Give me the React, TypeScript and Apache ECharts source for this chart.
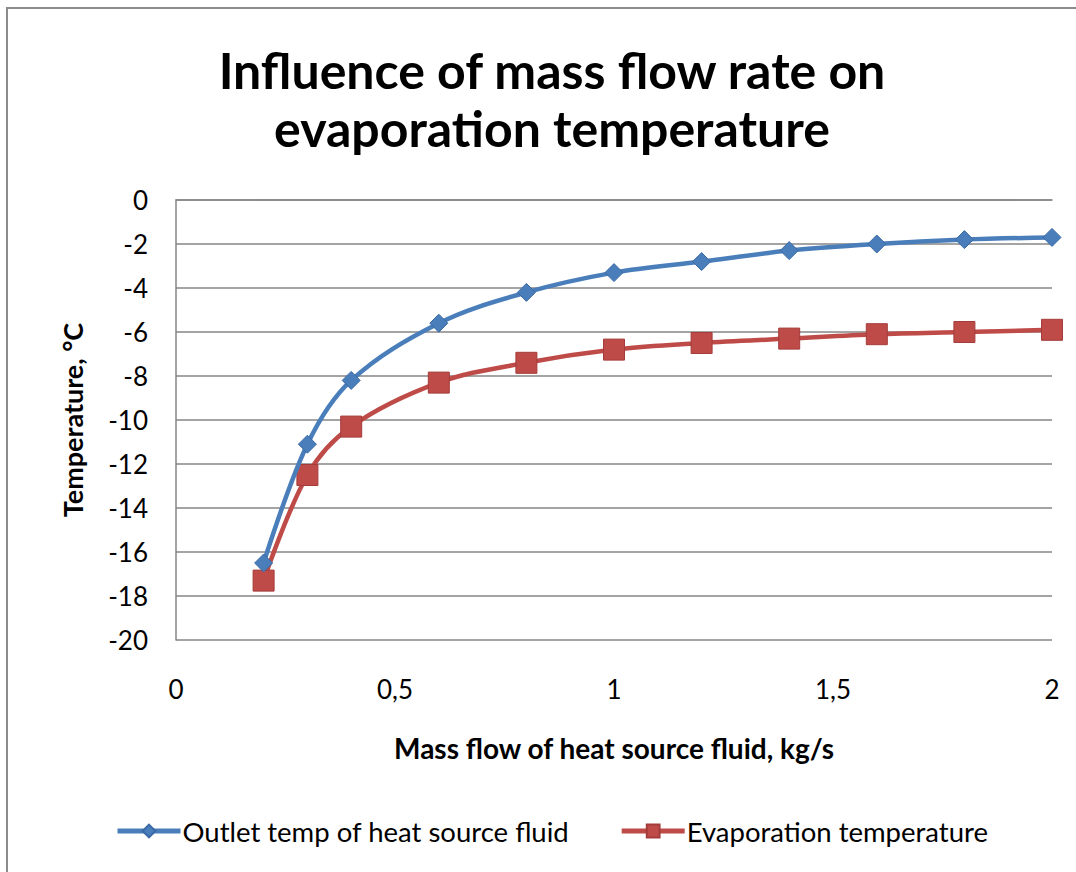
import React, { useEffect, useRef } from "react";
import * as echarts from "echarts";

const xValues = [0.2, 0.3, 0.4, 0.6, 0.8, 1.0, 1.2, 1.4, 1.6, 1.8, 2.0];
const outletTemp = [-16.5, -11.1, -8.2, -5.6, -4.2, -3.3, -2.8, -2.3, -2.0, -1.8, -1.7];
const evapTemp = [-17.3, -12.5, -10.3, -8.3, -7.4, -6.8, -6.5, -6.3, -6.1, -6.0, -5.9];
const seriesNames = ["Outlet temp of heat source fluid", "Evaporation temperature"];
const titleLines = ["Influence of mass flow rate on", "evaporation temperature"];
const xAxisName = "Mass flow of heat source fluid, kg/s";
const yAxisName = "Temperature, °C";

const FONT = "Lato, 'Open Sans', sans-serif";

export default function App() {
  const ref = useRef<HTMLDivElement>(null);
  useEffect(() => {
    document.body.style.margin = "0";
    if (!ref.current) return;
    const chart = echarts.init(ref.current, null, { renderer: "svg" });
    const pair = (ys: number[]) => xValues.map((x, i) => [x, ys[i]]);
    chart.setOption({
      animation: false,
      backgroundColor: "#ffffff",
      textStyle: { fontFamily: FONT },
      graphic: [
        {
          type: "rect",
          shape: { x: 7, y: 8, width: 1080, height: 880 },
          style: { fill: "none", stroke: "#8c8c8c", lineWidth: 2 },
          silent: true,
        },
        ...titleLines.map((t, i) => ({
          type: "text",
          x: 552,
          y: 70 + i * 58,
          silent: true,
          style: {
            text: t,
            fontFamily: FONT,
            fontWeight: "bold",
            fontSize: 50,
            fill: "#000",
            textAlign: "center",
            textVerticalAlign: "middle",
          },
        })),
      ],
      legend: {
        top: 817,
        left: 115,
        padding: 0,
        itemWidth: 63,
        itemHeight: 16,
        itemGap: 50,
        lineStyle: { width: 5 },
        textStyle: { fontFamily: FONT, fontSize: 27.5, color: "#000", padding: [0, 0, 0, -3] },
        data: seriesNames,
      },
      grid: { left: 176, right: 24, top: 200, bottom: 232, containLabel: false },
      xAxis: {
        type: "value",
        min: 0,
        max: 2,
        interval: 0.5,
        name: xAxisName,
        nameLocation: "middle",
        nameGap: 94,
        nameTextStyle: { fontFamily: FONT, fontWeight: "bold", fontSize: 28, color: "#000" },
        axisLine: { show: true, lineStyle: { color: "#868686", width: 1.5 } },
        axisTick: { show: false },
        splitLine: { show: false },
        axisLabel: {
          fontFamily: FONT,
          fontSize: 26,
          color: "#000",
          margin: 36,
          formatter: (v: number) => String(v).replace(".", ","),
        },
      },
      yAxis: {
        type: "value",
        min: -20,
        max: 0,
        interval: 2,
        name: yAxisName,
        nameLocation: "middle",
        nameGap: 90,
        nameRotate: 90,
        nameTextStyle: { fontFamily: FONT, fontWeight: "bold", fontSize: 27, color: "#000" },
        axisLine: { show: true, lineStyle: { color: "#868686", width: 1.5 } },
        axisTick: { show: false },
        splitLine: { show: true, lineStyle: { color: "#868686", width: 1.5 } },
        axisLabel: { fontFamily: FONT, fontSize: 26, color: "#000", margin: 28 },
      },
      series: [
        {
          name: seriesNames[0],
          type: "line",
          smooth: 0.35,
          data: pair(outletTemp),
          symbol: "diamond",
          symbolSize: 18,
          lineStyle: { color: "#4A7EBB", width: 4.5 },
          itemStyle: { color: "#4A7EBB", borderColor: "#3a6aa5", borderWidth: 1 },
          z: 3,
        },
        {
          name: seriesNames[1],
          type: "line",
          smooth: 0.35,
          data: pair(evapTemp),
          symbol: "rect",
          symbolSize: 21,
          lineStyle: { color: "#BE4B48", width: 4.5 },
          itemStyle: { color: "#BE4B48", borderColor: "#a33c3a", borderWidth: 1 },
          z: 2,
        },
      ],
    });
    return () => chart.dispose();
  }, []);
  return <div ref={ref} style={{ width: 1076, height: 872 }} />;
}
